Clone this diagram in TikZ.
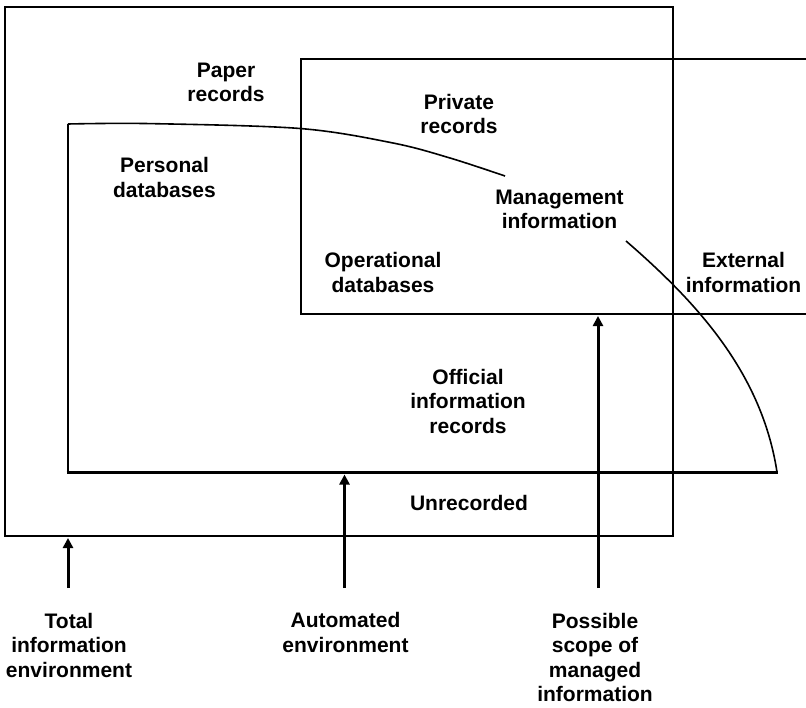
\documentclass[tikz,border=0pt]{standalone}
\usepackage{fontspec}
\setmainfont{Liberation Sans}
\usetikzlibrary{arrows.meta}
\begin{document}
\begin{tikzpicture}[x=1pt,y=-1pt,
  lbl/.style={font=\bfseries\fontsize{21}{24.5}\selectfont, align=center, inner sep=0pt},
  boxline/.style={line width=2pt},
  curveline/.style={line width=1.6pt},
  uparrow/.style={line width=3pt, -{Triangle[length=10pt,width=10pt]}, shorten >=1pt}]
\useasboundingbox[fill=white] (0,0) rectangle (806,707);
% outer box: total information environment
\draw[boxline] (5,7) rectangle (673,536);
% managed information box (open at the right)
\draw[boxline] (806,59) -- (301,59) -- (301,314) -- (806,314);
% automated environment (curved boundary, interrupted by the label)
\coordinate (c1) at (68,124);
\coordinate (c2) at (505,176);
\coordinate (c3) at (626,241);
\coordinate (c4) at (777,472);
\draw[curveline] plot[smooth, tension=0.55] coordinates {(68,124) (150,123.6) (300,128.5) (393,143) (450,158) (505,176)};
\draw[curveline] (c3) .. controls (700,305) and (762,375) .. (c4);
\draw[boxline] (c1) -- (68,472);
\draw[line width=3pt] (66.5,472) -- (778,472);
\coordinate (outerbot) at (68,537);
\coordinate (autobot) at (344.5,473.5);
\coordinate (scopebot) at (598,315);
% labels
\node[lbl] (paper) at (226,82.5) {Paper\\records};
\node[lbl] (private) at (459,114) {Private\\records};
\node[lbl] (personal) at (164.5,177.5) {Personal\\databases};
\node[lbl] (mgmt) at (559.5,209.5) {Management\\information};
\node[lbl] (oper) at (383,272.5) {Operational\\databases};
\node[lbl] (ext) at (743.5,272.5) {External\\information};
\node[lbl] (official) at (468,401) {Official\\information\\records};
\node[lbl] (unrec) at (469,503) {Unrecorded};
\node[lbl] (total) at (69,645) {Total\\information\\environment};
\node[lbl] (auto) at (345.5,632.5) {Automated\\environment};
\node[lbl] (scope) at (595,657.5) {Possible\\scope of\\managed\\information};
% arrows
\coordinate (a1) at (68,588);
\coordinate (a2) at (344.5,588);
\coordinate (a3) at (598,588);
\draw[uparrow] (a1) -- (outerbot);
\draw[uparrow] (a2) -- (autobot);
\draw[uparrow] (a3) -- (scopebot);
\end{tikzpicture}
\end{document}
